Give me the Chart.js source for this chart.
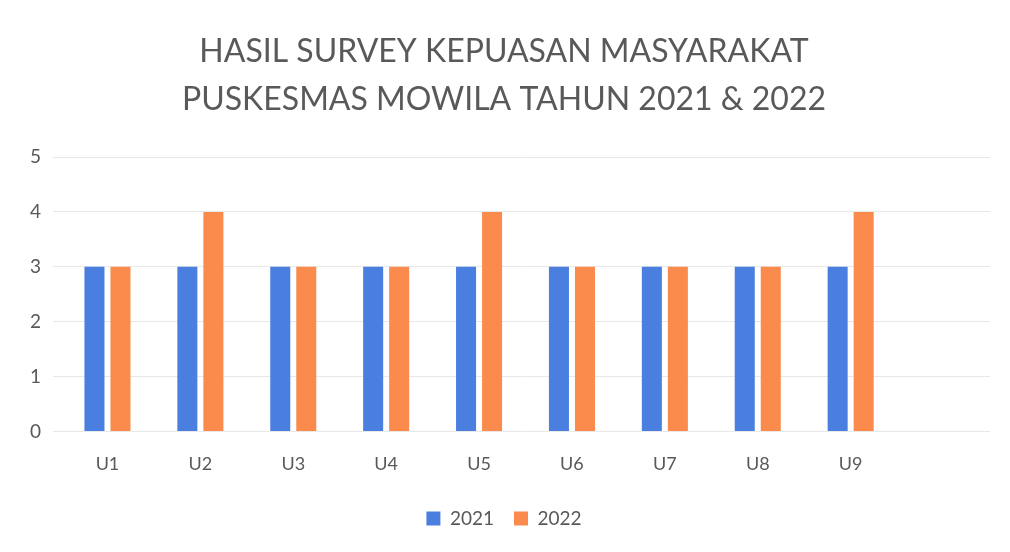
<!DOCTYPE html>
<html>
<head>
<meta charset="utf-8">
<script src="https://cdn.jsdelivr.net/npm/chart.js@4.4.0/dist/chart.umd.min.js"></script>
<style>
  html, body { margin: 0; padding: 0; background: #fff; }
  #wrap { width: 1010px; height: 552px; }
</style>
</head>
<body>
<div id="wrap"><canvas id="myChart"></canvas></div>
<script>
// kategori (slot terakhir kosong seperti di grafik Excel)
const labels = ['U1', 'U2', 'U3', 'U4', 'U5', 'U6', 'U7', 'U8', 'U9', ''];
const data2021 = [3, 3, 3, 3, 3, 3, 3, 3, 3, null];
const data2022 = [3, 4, 3, 3, 4, 3, 3, 3, 4, null];
const yTicks = [0, 1, 2, 3, 4, 5];

const textColor = '#595959';
const fontName = 'Lato, "Open Sans", sans-serif';

const config = {
    type: 'bar',
    data: {
        labels: labels,
        datasets: [
            {
                label: '2021',
                data: data2021,
                backgroundColor: '#4A7FDF',
                categoryPercentage: 0.56,
                barPercentage: 0.77
            },
            {
                label: '2022',
                data: data2022,
                backgroundColor: '#FA8B4D',
                categoryPercentage: 0.56,
                barPercentage: 0.77
            }
        ]
    },
    options: {
        responsive: true,
        maintainAspectRatio: false,
        animation: false,
        layout: { padding: { left: 18, right: 20, top: 10, bottom: 14 } },
        plugins: {
            title: {
                display: true,
                text: ['HASIL SURVEY KEPUASAN MASYARAKAT', 'PUSKESMAS MOWILA TAHUN 2021 & 2022'],
                color: textColor,
                font: { family: fontName, size: 32, weight: 'normal', lineHeight: 1.5 },
                padding: { top: 18, bottom: 33 }
            },
            legend: {
                position: 'bottom',
                labels: {
                    color: textColor,
                    font: { family: fontName, size: 19 },
                    boxWidth: 14,
                    boxHeight: 14,
                    padding: 20
                }
            },
            tooltip: { enabled: false }
        },
        scales: {
            x: {
                grid: { display: false },
                border: { display: false },
                ticks: { color: textColor, font: { family: fontName, size: 18 }, padding: 14 }
            },
            y: {
                min: 0,
                max: 5,
                grid: { color: '#e8e8e8' },
                border: { display: false },
                afterBuildTicks: (axis) => { axis.ticks = yTicks.map(v => ({ value: v })); },
                ticks: { color: textColor, font: { family: fontName, size: 19 }, padding: 12 }
            }
        }
    }
};

new Chart(document.getElementById('myChart'), config);
</script>
</body>
</html>
